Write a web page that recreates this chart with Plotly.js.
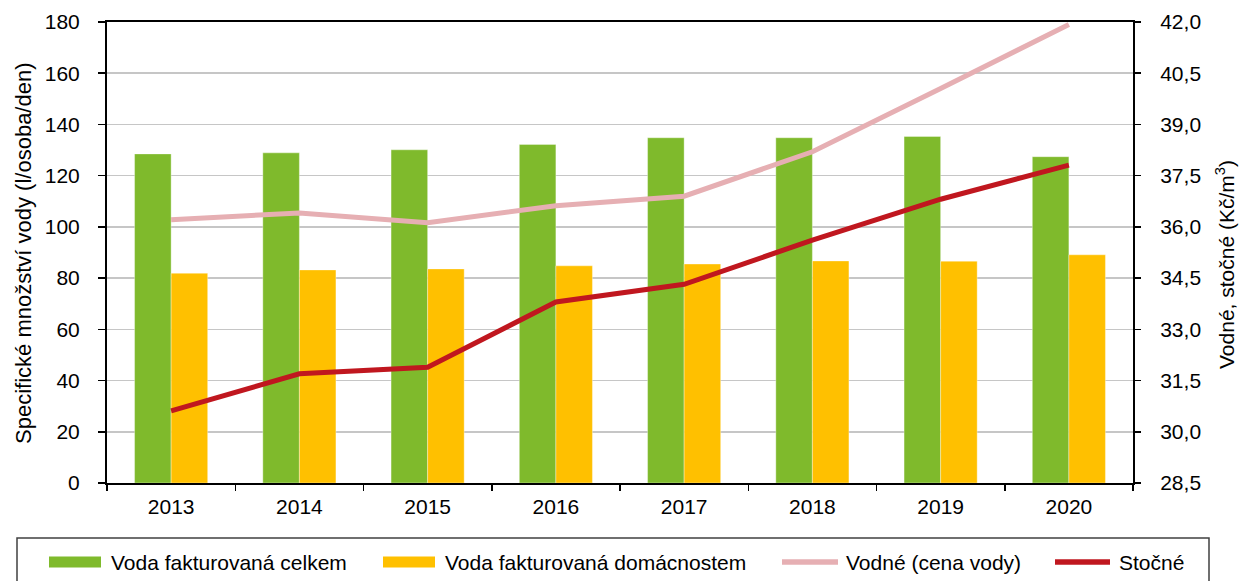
<!DOCTYPE html>
<html>
<head>
<meta charset="utf-8">
<script src="https://cdn.plot.ly/plotly-3.0.1.min.js"></script>
<style>
  html, body { margin: 0; padding: 0; background: #fff; }
  #chart { width: 1239px; height: 581px; }
</style>
</head>
<body>
<div id="chart"></div>
<script>
// data
const years = ['2013', '2014', '2015', '2016', '2017', '2018', '2019', '2020'];
const vodaCelkem = [128.5, 128.9, 130.1, 132.2, 134.8, 134.8, 135.3, 127.4];
const vodaDomacnosti = [81.9, 83.2, 83.6, 84.8, 85.5, 86.7, 86.6, 89.1];
const vodne = [36.21, 36.41, 36.12, 36.62, 36.90, 38.20, 40.05, 41.93];
const stocne = [30.61, 31.70, 31.89, 33.80, 34.32, 35.61, 36.81, 37.81];

const seriesNames = ['Voda fakturovaná celkem', 'Voda fakturovaná domácnostem', 'Vodné (cena vody)', 'Stočné'];
const seriesColors = ['#7FBA2C', '#FFC000', '#E6AFB3', '#C0171F'];
const leftTitle = 'Specifické množství vody (l/osoba/den)';
const rightTitle = 'Vodné, stočné (Kč/m<sup>3</sup>)';

// plot area in pixels
const W = 1239, H = 581;
const M = { l: 107, r: 106, t: 22, b: 98 };
const plotW = W - M.l - M.r;
const plotH = H - M.t - M.b;
const px2x = px => (px - M.l) / plotW;
const py2y = py => (H - M.b - py) / plotH;

const FONT = 'Liberation Sans, Arial, sans-serif';
const TICK = 21;

const traces = [
  {
    type: 'bar', x: years, y: vodaCelkem, name: seriesNames[0],
    marker: { color: seriesColors[0], line: { color: 'rgba(255,255,255,0.35)', width: 1 } },
    hoverinfo: 'skip'
  },
  {
    type: 'bar', x: years, y: vodaDomacnosti, name: seriesNames[1],
    marker: { color: seriesColors[1], line: { color: 'rgba(255,255,255,0.35)', width: 1 } },
    hoverinfo: 'skip'
  },
  {
    type: 'scatter', mode: 'lines', x: years, y: vodne, name: seriesNames[2], yaxis: 'y2',
    line: { color: seriesColors[2], width: 5 }, hoverinfo: 'skip'
  },
  {
    type: 'scatter', mode: 'lines', x: years, y: stocne, name: seriesNames[3], yaxis: 'y2',
    line: { color: seriesColors[3], width: 5 }, hoverinfo: 'skip'
  }
];

// hand-made legend (wide swatches like the original)
const legendItems = [
  { kind: 'rect', x0: 49, x1: 101, tx: 112 },
  { kind: 'rect', x0: 383, x1: 435, tx: 446 },
  { kind: 'line', x0: 782, x1: 838, tx: 847 },
  { kind: 'line', x0: 1055, x1: 1110, tx: 1120 }
];
const legendY = 562;

const shapes = [
  {
    type: 'rect', xref: 'paper', yref: 'paper',
    x0: px2x(17), x1: px2x(1209), y0: py2y(538), y1: py2y(590),
    line: { color: '#404040', width: 1.5 }, fillcolor: 'rgba(0,0,0,0)'
  }
];
const annotations = [];
legendItems.forEach((it, i) => {
  if (it.kind === 'rect') {
    shapes.push({
      type: 'rect', xref: 'paper', yref: 'paper',
      x0: px2x(it.x0), x1: px2x(it.x1), y0: py2y(legendY - 5.5), y1: py2y(legendY + 5.5),
      line: { width: 0 }, fillcolor: seriesColors[i]
    });
  } else {
    shapes.push({
      type: 'line', xref: 'paper', yref: 'paper',
      x0: px2x(it.x0), x1: px2x(it.x1), y0: py2y(legendY), y1: py2y(legendY),
      line: { color: seriesColors[i], width: 5.5 }
    });
  }
  annotations.push({
    xref: 'paper', yref: 'paper', x: px2x(it.tx - 3), y: py2y(legendY),
    xanchor: 'left', yanchor: 'middle', showarrow: false,
    text: seriesNames[i], font: { family: FONT, size: 21, color: '#000' }
  });
});

// axis titles
annotations.push({
  xref: 'paper', yref: 'paper', x: px2x(23), y: py2y(253),
  xanchor: 'center', yanchor: 'middle', textangle: -90, showarrow: false,
  text: leftTitle, font: { family: FONT, size: 22, color: '#000' }
});
annotations.push({
  xref: 'paper', yref: 'paper', x: px2x(1225), y: py2y(265),
  xanchor: 'center', yanchor: 'middle', textangle: -90, showarrow: false,
  text: rightTitle, font: { family: FONT, size: 21, color: '#000' }
});

const layout = {
  width: W, height: H,
  margin: M,
  paper_bgcolor: '#fff', plot_bgcolor: '#fff',
  font: { family: FONT, size: TICK, color: '#000' },
  separators: ', ',
  showlegend: false,
  barmode: 'group',
  bargap: 0.43,
  bargroupgap: 0,
  xaxis: {
    type: 'category',
    tickson: 'boundaries',
    ticks: 'outside', ticklen: 6, tickwidth: 1.5, tickcolor: '#000',
    showline: true, linecolor: '#000', linewidth: 2, mirror: true,
    showgrid: false, zeroline: false,
    tickfont: { family: FONT, size: TICK },
    ticklabelstandoff: 4
  },
  yaxis: {
    range: [0, 180], dtick: 20, tick0: 0,
    ticks: 'outside', ticklen: 7, tickwidth: 1.5, tickcolor: '#000',
    showline: true, linecolor: '#000', linewidth: 2,
    showgrid: true, gridcolor: '#C6C6C6', gridwidth: 1.5,
    zeroline: false,
    tickfont: { family: FONT, size: TICK },
    ticklabelstandoff: 14
  },
  yaxis2: {
    overlaying: 'y', side: 'right',
    range: [28.5, 42], dtick: 1.5, tick0: 28.5,
    tickformat: '.1f',
    ticks: 'outside', ticklen: 6, tickwidth: 1.5, tickcolor: '#000',
    showline: true, linecolor: '#000', linewidth: 2,
    showgrid: false, zeroline: false,
    tickfont: { family: FONT, size: TICK },
    ticklabelstandoff: 15
  },
  shapes: shapes,
  annotations: annotations
};

Plotly.newPlot('chart', traces, layout, { displayModeBar: false, staticPlot: true });
</script>
</body>
</html>
